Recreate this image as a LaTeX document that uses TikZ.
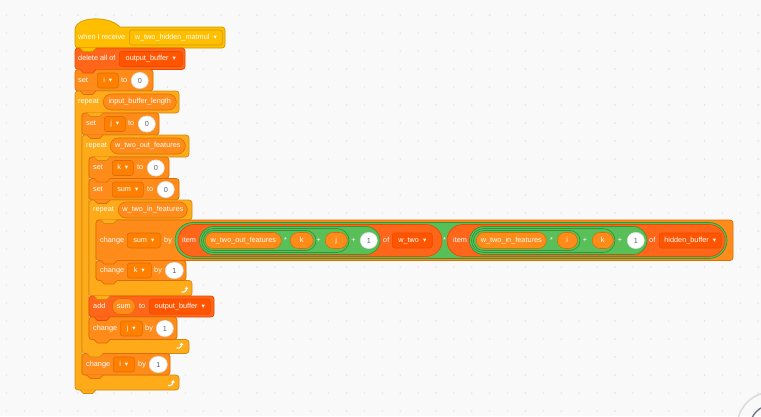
\documentclass[tikz,border=0pt]{standalone}
\usepackage{fontspec}
\setmainfont{Liberation Sans}
\newfontfamily\symbfont{DejaVu Sans}
\usepackage{xcolor}
\usepackage{tikz}
\usetikzlibrary{positioning,arrows.meta}
\definecolor{bgcol}{HTML}{F9F9F9}
\newcommand{\blockfont}{\fontsize{7.3pt}{8pt}\selectfont}
\newcommand{\ddarr}{{\symbfont\fontsize{6.5pt}{6.5pt}\selectfont ▾}}
\newcommand{\ddgap}{\hspace{4pt}}

\begin{document}
\begin{tikzpicture}[x=1pt, y=-1pt]
	\definecolor{evtfill}{HTML}{FFBF00}
	\definecolor{evtline}{HTML}{CC9900}
	\definecolor{ctrlfill}{HTML}{FFAB19}
	\definecolor{ctrlline}{HTML}{CF8B17}
	\definecolor{varfill}{HTML}{FF8C1A}
	\definecolor{vardark}{HTML}{FF8000}
	\definecolor{varline}{HTML}{DB6E00}
	\definecolor{listfill}{HTML}{FF661A}
	\definecolor{listdark}{HTML}{FF5500}
	\definecolor{listline}{HTML}{E64D00}
	\definecolor{opfill}{HTML}{59C059}
	\definecolor{opline}{HTML}{389438}
	\definecolor{numtext}{HTML}{575E75}
	\definecolor{dotcol}{HTML}{E2E2E2}
	\tikzset{
		evtblock/.style={fill=evtfill, draw=evtline, line width=0.7pt, rounded corners=3pt},
		ctrlblock/.style={fill=ctrlfill, draw=ctrlline, line width=0.7pt, rounded corners=3pt},
		varblock/.style={fill=varfill, draw=varline, line width=0.7pt, rounded corners=3pt},
		listblock/.style={fill=listfill, draw=listline, line width=0.7pt, rounded corners=3pt},
		opring/.style={fill=opfill, draw=opline, line width=0.7pt},
		itemring/.style={fill=listfill, draw=listline, line width=0.7pt},
		lbl/.style={anchor=west, inner sep=0pt, text=white, font=\blockfont,
			text height=5.3pt, text depth=1.5pt},
		oplbl/.style={lbl, anchor=center},
		varoval/.style={lbl, minimum height=16pt, rounded corners=8pt,
			fill=varfill, draw=varline, line width=0.6pt},
		numoval/.style={lbl, minimum height=16pt, rounded corners=8pt,
			fill=white, draw=black!12, line width=0.6pt, text=numtext,
			text height=5.2pt, text depth=0pt},
		varmenu/.style={lbl, minimum height=15pt, rounded corners=2.5pt,
			fill=vardark, draw=varline, line width=0.6pt},
		listmenu/.style={varmenu, fill=listdark, draw=listline},
		evtmenu/.style={varmenu, fill=evtfill, draw=evtline},
		loopicon/.style={white, line width=1.1pt, -{Triangle[length=2.4pt,width=3.8pt]}},
		zoomring/.style={draw=black!14, line width=1.5pt},
		zoomlens/.style={draw=numtext!85, line width=1.4pt}
	}
	
	% workspace
	\fill[bgcol] (0,0) rectangle (761,416);
	\useasboundingbox (0,0) rectangle (761,416);
	\foreach \i in {0,...,42}
		\foreach \j in {0,...,22}
			\fill[dotcol] (6.4+17.9*\i,15+18*\j) circle (0.8);
	\draw[zoomring] (772,427) circle (35);
	\draw[zoomlens] (772,427) circle (22);
	
	% block bodies
	\draw[evtblock, sharp corners] (75,27) .. controls (84,16.5) and (110,16.5) .. (120,27)
		[rounded corners=3pt] -- (225,27) -- (225,48) -- (75,48) -- cycle;
	\draw[listblock] (75,48) rectangle (185,69.5);
	\draw[varblock] (75,69.5) rectangle (153,91);
	\draw[ctrlblock] (75,91) -- (179,91) -- (179,113) -- (82,113) -- (82,375)
		-- (179,375) -- (179,390) -- (75,390) -- cycle;
	\draw[varblock] (82,113) rectangle (159,135);
	\draw[ctrlblock] (82,135) -- (189,135) -- (189,157) -- (89,157) -- (89,339.5)
		-- (189,339.5) -- (189,353.5) -- (82,353.5) -- cycle;
	\draw[varblock] (89,157) rectangle (169,178.5);
	\draw[varblock] (89,178.5) rectangle (179,200);
	\draw[ctrlblock] (89,200) -- (192,200) -- (192,220) -- (96,220) -- (96,280.5)
		-- (192,280.5) -- (192,296) -- (89,296) -- cycle;
	\draw[varblock] (96,220) rectangle (733,260.5);
	\draw[varblock] (96,260.5) rectangle (186,280.5);
	\draw[listblock] (89,296) rectangle (214,317);
	\draw[varblock] (89,317) rectangle (177,339.5);
	\draw[varblock] (82,353.5) rectangle (170,375);
	
	% tabs under each block
	\foreach \tx/\ty/\tf/\td in {75/48/evtfill/evtline, 75/69.5/listfill/listline,
			75/91/varfill/varline, 82/113/ctrlfill/ctrlline, 82/135/varfill/varline,
			89/157/ctrlfill/ctrlline, 89/178.5/varfill/varline, 89/200/varfill/varline,
			96/220/ctrlfill/ctrlline, 96/260.5/varfill/varline, 96/280.5/varfill/varline,
			89/296/ctrlfill/ctrlline, 89/317/listfill/listline, 89/339.5/varfill/varline,
			82/353.5/ctrlfill/ctrlline, 82/375/varfill/varline, 75/390/ctrlfill/ctrlline}
	{
		\fill[fill=\tf] (\tx+4.6,\ty-0.5) -- (\tx+8.5,\ty+3.5) -- (\tx+17.5,\ty+3.5) -- (\tx+21.4,\ty-0.5) -- cycle;
		\draw[draw=\td, line width=0.7pt, line join=round] (\tx+5,\ty) -- (\tx+8.5,\ty+3.5) -- (\tx+17.5,\ty+3.5) -- (\tx+21,\ty);
	}
	
	% nested reporters
	\draw[opring, rounded corners=18pt] (175,222.5) rectangle (727,258.5);
	\draw[itemring, rounded corners=16pt] (178,224.5) rectangle (442,256.5);
	\draw[opring, rounded corners=14pt] (199.5,226.5) rectangle (380,254.5);
	\draw[opring, rounded corners=12pt] (201.5,228.5) rectangle (349,252.5);
	\draw[opring, rounded corners=10pt] (203.5,230.5) rectangle (316,250.5);
	\draw[itemring, rounded corners=16pt] (447,224.5) rectangle (725,256.5);
	\draw[opring, rounded corners=14pt] (469.5,226.5) rectangle (647,254.5);
	\draw[opring, rounded corners=12pt] (471.5,228.5) rectangle (615,252.5);
	\draw[opring, rounded corners=10pt] (473.5,230.5) rectangle (580,250.5);
	
	% texts
	\node[lbl] (whenlbl) at (78,37.5) {when I receive};
	\node[evtmenu, minimum width=93pt] (msgmenu) at (129,37.5) {w\_two\_hidden\_matmul\ddgap\ddarr};
	
	\node[lbl] (dellbl) at (78,59) {delete all of};
	\node[listmenu, minimum width=63pt] (delmenu) at (119,59) {output\_buffer\ddgap\ddarr};
	
	\node[lbl] (setilbl) at (78,80.5) {set};
	\node[varmenu, minimum width=21pt] (setimenu) at (97,80.5) {i\ddgap\ddarr};
	\node[lbl] (setito) at (121,80.5) {to};
	\node[numoval, minimum width=17pt] (setinum) at (131,80.5) {0};
	
	\node[lbl] (rep1lbl) at (78,102) {repeat};
	\node[varoval, minimum width=73pt] (rep1var) at (103,102) {input\_buffer\_length};
	
	\node[lbl] (setjlbl) at (86,124) {set};
	\node[varmenu, minimum width=21pt] (setjmenu) at (104,124) {j\ddgap\ddarr};
	\node[lbl] (setjto) at (128,124) {to};
	\node[numoval, minimum width=17pt] (setjnum) at (138,124) {0};
	
	\node[lbl] (rep2lbl) at (86,146) {repeat};
	\node[varoval, minimum width=75pt] (rep2var) at (110,146) {w\_two\_out\_features};
	
	\node[lbl] (setklbl) at (93,168) {set};
	\node[varmenu, minimum width=21pt] (setkmenu) at (112,168) {k\ddgap\ddarr};
	\node[lbl] (setkto) at (137,168) {to};
	\node[numoval, minimum width=17pt] (setknum) at (147,168) {0};
	
	\node[lbl] (setslbl) at (93,189.5) {set};
	\node[varmenu, minimum width=31pt] (setsmenu) at (112,189.5) {sum\ddgap\ddarr};
	\node[lbl] (setsto) at (147,189.5) {to};
	\node[numoval, minimum width=17pt] (setsnum) at (157,189.5) {0};
	
	\node[lbl] (rep3lbl) at (93,210) {repeat};
	\node[varoval, minimum width=69pt] (rep3var) at (118,210) {w\_two\_in\_features};
	
	\node[lbl] (chslbl) at (100,240.5) {change};
	\node[varmenu, minimum width=33pt] (chsmenu) at (127,240.5) {sum\ddgap\ddarr};
	\node[lbl] (chsby) at (164,240.5) {by};
	\node[lbl] (itemalbl) at (182,240.5) {item};
	\node[varoval, minimum width=76pt] (woutvar) at (205,240.5) {w\_two\_out\_features};
	\node[oplbl] (mula) at (285.5,240.5) {*};
	\node[varoval, minimum width=23pt] (kvara) at (290,240.5) {k};
	\node[oplbl] (plusa) at (318.5,240.5) {+};
	\node[varoval, minimum width=22pt] (jvara) at (325,240.5) {j};
	\node[oplbl] (plusb) at (353.5,240.5) {+};
	\node[numoval, minimum width=17pt] (onea) at (360,240.5) {1};
	\node[lbl] (ofa) at (383,240.5) {of};
	\node[listmenu, minimum width=40pt] (wtwomenu) at (392,240.5) {w\_two\ddgap\ddarr};
	\node[oplbl] (mulb) at (444.5,240.5) {*};
	\node[lbl] (itemblbl) at (453,240.5) {item};
	\node[varoval, minimum width=70pt] (winvar) at (476,240.5) {w\_two\_in\_features};
	\node[oplbl] (mulc) at (551.5,240.5) {*};
	\node[varoval, minimum width=20pt] (ivar) at (557,240.5) {i};
	\node[oplbl] (plusc) at (585,240.5) {+};
	\node[varoval, minimum width=21pt] (kvarb) at (592,240.5) {k};
	\node[oplbl] (plusd) at (620,240.5) {+};
	\node[numoval, minimum width=17pt] (oneb) at (627,240.5) {1};
	\node[lbl] (ofb) at (649,240.5) {of};
	\node[listmenu, minimum width=62pt] (hidmenu) at (659,240.5) {hidden\_buffer\ddgap\ddarr};
	
	\node[lbl] (chklbl) at (100,270.5) {change};
	\node[varmenu, minimum width=24pt] (chkmenu) at (127,270.5) {k\ddgap\ddarr};
	\node[lbl] (chkby) at (154,270.5) {by};
	\node[numoval, minimum width=18pt] (chknum) at (165,270.5) {1};
	
	\node[lbl] (addlbl) at (93,306.5) {add};
	\node[varoval, minimum width=23pt] (addvar) at (112,306.5) {sum};
	\node[lbl] (addto) at (139,306.5) {to};
	\node[listmenu, minimum width=61pt] (addmenu) at (149,306.5) {output\_buffer\ddgap\ddarr};
	
	\node[lbl] (chjlbl) at (93,328.5) {change};
	\node[varmenu, minimum width=22pt] (chjmenu) at (120,328.5) {j\ddgap\ddarr};
	\node[lbl] (chjby) at (145,328.5) {by};
	\node[numoval, minimum width=17pt] (chjnum) at (156,328.5) {1};
	
	\node[lbl] (chilbl) at (86,364.5) {change};
	\node[varmenu, minimum width=21pt] (chimenu) at (113,364.5) {i\ddgap\ddarr};
	\node[lbl] (chiby) at (138,364.5) {by};
	\node[numoval, minimum width=18pt] (chinum) at (149,364.5) {1};
	
	% loop arrows
	\draw[loopicon] (181.5,292) -- (184,292) to[out=0,in=-90] (186.5,286.6);
	\draw[loopicon] (176.5,348) -- (179,348) to[out=0,in=-90] (181.5,342.6);
	\draw[loopicon] (168,385.5) -- (170.5,385.5) to[out=0,in=-90] (173,380.1);
\end{tikzpicture}
\end{document}
